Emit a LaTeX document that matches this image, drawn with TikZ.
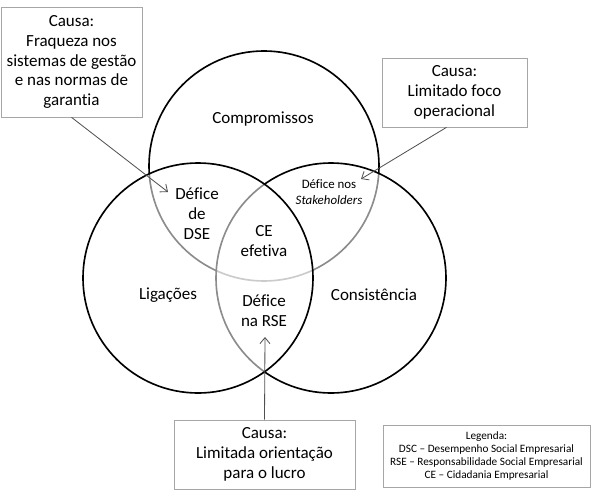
\documentclass[tikz,border=0pt]{standalone}
\usepackage{fontspec}
\setmainfont{Carlito}[Ligatures=NoCommon]
\usetikzlibrary{arrows.meta}
\definecolor{boxgray}{RGB}{166,166,166}
\definecolor{arrowgray}{RGB}{80,80,80}

\begin{document}
\begin{tikzpicture}[x=0.3mm, y=-0.3mm,
    set/.style={draw=black, line width=1.4pt, fill=white, fill opacity=0.55},
    causebox/.style={draw=boxgray, line width=0.6pt, fill=white, align=center, inner sep=0pt, font=\fontsize{14.5}{17}\selectfont},
    legendbox/.style={draw=boxgray, line width=0.6pt, fill=white, align=center, inner sep=0pt, font=\fontsize{9.6}{11.2}\selectfont},
    cause/.style={draw=arrowgray, line width=0.7pt, -{Straight Barb[length=1.8mm, width=3mm]}},
    lbl/.style={align=center, font=\fontsize{14.5}{17}\selectfont},
    smalllbl/.style={align=center, font=\fontsize{11}{13.6}\selectfont}]
    \useasboundingbox (0,0) rectangle (594,491);

    % the three sets
    \draw [set] (264,166) circle (34.5mm);
    \draw [set] (331,278) circle (34.5mm);
    \draw [set] (198,278) circle (34.5mm);

    \node [lbl] (comp) at (263,119) {Compromissos};
    \node [lbl] (lig) at (168,295) {Ligações};
    \node [lbl] (cons) at (374,295) {Consistência};
    \node [lbl] (dse) at (197,214) {Défice\\de\\DSE};
    \node [smalllbl] (stake) at (329,192) {Défice nos\\\textit{Stakeholders}};
    \node [lbl] (ce) at (264,241) {CE\\efetiva};
    \node [lbl] (rse) at (264,311) {Défice\\na RSE};

    % causes
    \node [causebox, minimum width=42.3mm, minimum height=33mm] (box1) at (71.5,62) {Causa:\\Fraqueza nos\\sistemas de gestão\\e nas normas de\\garantia};
    \node [causebox, minimum width=43.5mm, minimum height=20.7mm] (box2) at (454.5,92.5) {Causa:\\Limitado foco\\operacional};
    \node [causebox, minimum width=54.3mm, minimum height=20.7mm] (box3) at (264.5,454.5) {Causa:\\Limitada orientação\\para o lucro};

    \coordinate (tip1) at (168,192);
    \coordinate (tip2) at (361,179);
    \coordinate (tip3) at (265,337);

    \draw [cause] (box1.south) -- (tip1);
    \draw [cause] ([xshift=-2.4mm]box2.south) -- (tip2);
    \draw [cause] (box3.north) -- (tip3);

    \node [legendbox, minimum width=62.1mm, minimum height=18.6mm] (legend) at (486.5,456) {Legenda:\\DSC -- Desempenho Social Empresarial\\RSE -- Responsabilidade Social Empresarial\\CE -- Cidadania Empresarial};
\end{tikzpicture}
\end{document}
